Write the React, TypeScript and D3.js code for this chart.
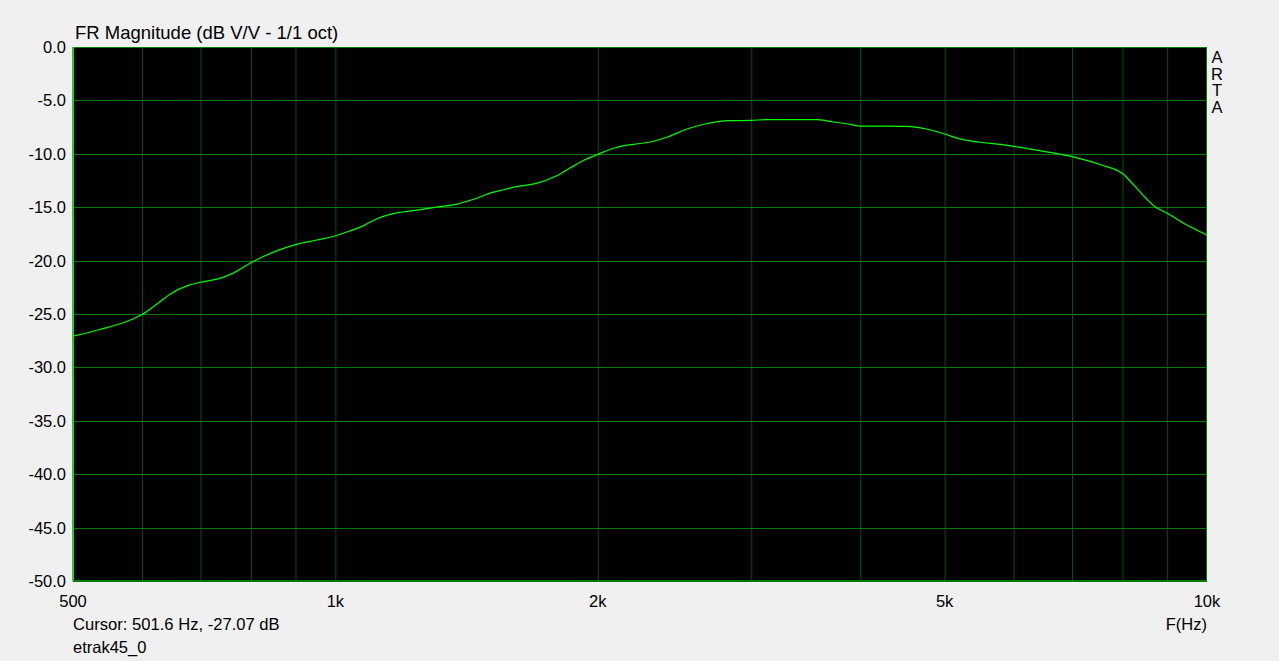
import React from "react";
import * as d3 from "d3";

const freqs = [500, 537, 576, 600, 629, 646, 679, 700, 743, 762, 800, 862, 900, 952, 1000, 1031, 1079, 1115, 1155, 1195, 1250, 1317, 1376, 1412, 1463, 1510, 1544, 1612, 1700, 1792, 1856, 1921, 2000, 2095, 2196, 2290, 2410, 2532, 2655, 2829, 3000, 3124, 3560, 3730, 3896, 4000, 4523, 4765, 5000, 5206, 5487, 5782, 6000, 6424, 7000, 7563, 8000, 8259, 8718, 9000, 9526, 10000];
const magDb = [-27.07, -26.45, -25.7, -25.05, -23.85, -23.15, -22.3, -22.03, -21.57, -21.2, -20.2, -19.0, -18.5, -18.07, -17.67, -17.32, -16.7, -16.1, -15.67, -15.45, -15.23, -14.95, -14.73, -14.48, -14.07, -13.64, -13.45, -13.08, -12.77, -12.08, -11.36, -10.67, -10.05, -9.43, -9.11, -8.92, -8.4, -7.68, -7.21, -6.9, -6.87, -6.8, -6.8, -7.02, -7.24, -7.4, -7.43, -7.68, -8.15, -8.61, -8.92, -9.11, -9.3, -9.71, -10.27, -11.05, -11.85, -13.01, -14.95, -15.57, -16.76, -17.6];

const yTicks = [0, -5, -10, -15, -20, -25, -30, -35, -40, -45, -50];
const xGrid = [600, 700, 800, 900, 1000, 2000, 3000, 4000, 5000, 6000, 7000, 8000, 9000];
const xLabels = [
  { f: 500, t: "500" },
  { f: 1000, t: "1k" },
  { f: 2000, t: "2k" },
  { f: 5000, t: "5k" },
  { f: 10000, t: "10k" },
];

const W = 1279, H = 661;
const L = 73, R = 1207, T = 47, B = 581;
const FONT = "'Liberation Sans', Arial, sans-serif";

export default function App() {
  const x = d3.scaleLog().domain([500, 10000]).range([L, R]);
  const y = d3.scaleLinear().domain([-50, 0]).range([B, T]);
  const pts: [number, number][] = freqs.map((f, i) => [f, magDb[i]]);
  const line = d3.line<[number, number]>()
    .x(d => x(d[0]))
    .y(d => y(d[1]))
    .curve(d3.curveMonotoneX);

  return (
    <svg width={W} height={H} style={{ position: "fixed", left: 0, top: 0, background: "#f0f0f0" }}>
      <rect x={0} y={0} width={W} height={H} fill="#f0f0f0" />
      <rect x={L} y={T} width={R - L} height={B - T} fill="#000" />
      {xGrid.map(f => (
        <line key={"vx" + f} x1={x(f) + 0.5} x2={x(f) + 0.5} y1={T} y2={B} stroke="#005400" strokeWidth={1} />
      ))}
      {yTicks.map(v => (
        <line key={"hy" + v} x1={L} x2={R} y1={Math.round(y(v)) + 0.5} y2={Math.round(y(v)) + 0.5} stroke="#007a00" strokeWidth={1} />
      ))}
      <rect x={L + 0.5} y={T + 0.5} width={R - L - 1} height={B - T - 1} fill="none" stroke="#00800a" strokeWidth={1} />
      <line x1={L} x2={L} y1={T} y2={B} stroke="#22cc22" strokeWidth={2} />
      <path d={line(pts) || ""} fill="none" stroke="#00ff00" strokeWidth={1.2} />
      {yTicks.map(v => (
        <text key={"yl" + v} x={66} y={y(v) + 6} textAnchor="end" fontFamily={FONT} fontSize={16.5} fill="#000">
          {v.toFixed(1)}
        </text>
      ))}
      {xLabels.map(d => (
        <text key={"xl" + d.t} x={x(d.f)} y={607} textAnchor="middle" fontFamily={FONT} fontSize={16.5} fill="#000">
          {d.t}
        </text>
      ))}
      <text x={75} y={39} fontFamily={FONT} fontSize={18.5} fill="#000">FR Magnitude (dB V/V - 1/1 oct)</text>
      <text x={73} y={630} fontFamily={FONT} fontSize={16.6} fill="#000">Cursor: 501.6 Hz, -27.07 dB</text>
      <text x={73} y={653} fontFamily={FONT} fontSize={16.5} fill="#000">etrak45_0</text>
      <text x={1207} y={630} textAnchor="end" fontFamily={FONT} fontSize={16.5} fill="#000">F(Hz)</text>
      {["A", "R", "T", "A"].map((c, i) => (
        <text key={"arta" + i} x={1217} y={63 + i * 16.7} textAnchor="middle" fontFamily={FONT} fontSize={16.5} fill="#000">{c}</text>
      ))}
    </svg>
  );
}
